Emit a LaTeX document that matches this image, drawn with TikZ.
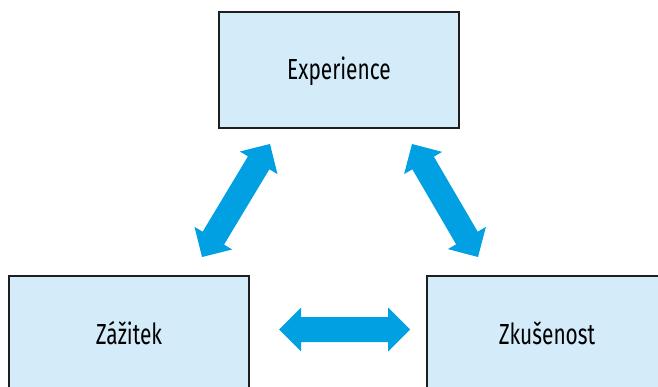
\documentclass[tikz,border=0pt]{standalone}
\usepackage{fontspec}
\setmainfont{Fira Sans}[FakeStretch=0.72]
\usetikzlibrary{calc}
\definecolor{boxfill}{HTML}{D4EBFA}
\definecolor{boxline}{HTML}{1E1E1E}
\definecolor{arrowc}{HTML}{00A0E3}
\newcommand\dblarrow[2]{%
  \fill[arrowc] (#1)
    -- ($(#1)!22pt!(#2)!22pt!90:(#2)$)
    -- ($(#1)!22pt!(#2)!12.5pt!90:(#2)$)
    -- ($(#2)!22pt!(#1)!12.5pt!-90:(#1)$)
    -- ($(#2)!22pt!(#1)!22pt!-90:(#1)$)
    -- (#2)
    -- ($(#2)!22pt!(#1)!22pt!90:(#1)$)
    -- ($(#2)!22pt!(#1)!12.5pt!90:(#1)$)
    -- ($(#1)!22pt!(#2)!12.5pt!-90:(#2)$)
    -- ($(#1)!22pt!(#2)!22pt!-90:(#2)$)
    -- cycle;}
\tikzset{
  box/.style={draw=boxline, line width=1.2pt, fill=boxfill,
    minimum width=240pt, minimum height=116pt, inner sep=0pt,
    text height=20pt, text depth=0pt,
    font=\fontsize{29pt}{31pt}\selectfont}
}
\begin{document}
\begin{tikzpicture}[x=1pt,y=-1pt]
\useasboundingbox (0,0) rectangle (658,387);
\clip (0,0) rectangle (658,387);
\node[box] (exp) at (339,70) {Experience};
\node[box] (zaz) at (129,334) {Zážitek};
\node[box] (zku) at (547,334) {Zkušenost};
% arrow end points
\coordinate (a1) at (270,144);
\coordinate (a2) at (202,257);
\coordinate (b1) at (412,144);
\coordinate (b2) at (478,257);
\coordinate (c1) at (279,329.5);
\coordinate (c2) at (410,329.5);
\dblarrow{a1}{a2}
\dblarrow{b1}{b2}
\dblarrow{c1}{c2}
\end{tikzpicture}
\end{document}
